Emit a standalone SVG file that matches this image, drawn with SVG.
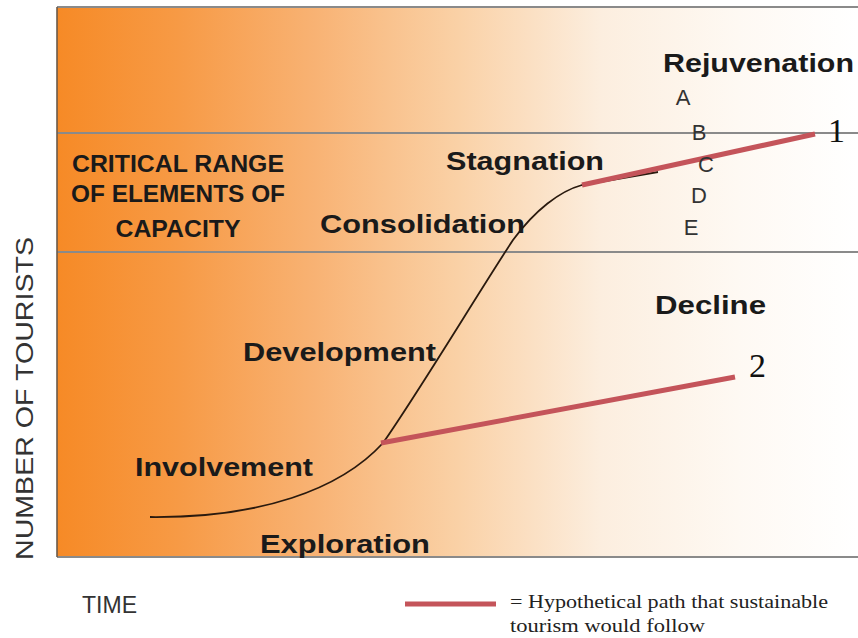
<svg xmlns="http://www.w3.org/2000/svg" width="858" height="638" viewBox="0 0 858 638">
  <defs>
    <linearGradient id="bg" x1="57" y1="0" x2="858" y2="0" gradientUnits="userSpaceOnUse">
      <stop offset="0" stop-color="#F68A26"/>
      <stop offset="0.15" stop-color="#F79A45"/>
      <stop offset="0.32" stop-color="#F8B273"/>
      <stop offset="0.5" stop-color="#FAD1A6"/>
      <stop offset="0.68" stop-color="#FCEEDF"/>
      <stop offset="0.85" stop-color="#FEF9F3"/>
      <stop offset="1" stop-color="#FFFFFF"/>
    </linearGradient>
    <style>
      .stage { font-family: "Liberation Sans", Arial, sans-serif; font-weight: bold; font-size: 26px; fill: #1a1a1a; }
      .crit { font-family: "Liberation Sans", Arial, sans-serif; font-weight: bold; font-size: 24px; fill: #1a1a1a; text-anchor: middle; }
      .letter { font-family: "Liberation Sans", Arial, sans-serif; font-size: 22px; fill: #333; text-anchor: middle; }
      .axis { font-family: "Liberation Sans", Arial, sans-serif; font-size: 23px; fill: #333; }
      .num { font-family: "Liberation Serif", "Times New Roman", serif; font-size: 34px; fill: #111; }
      .legend { font-family: "Liberation Serif", "Times New Roman", serif; font-size: 19px; fill: #222; }
      .grid { stroke: #8a8a8a; stroke-width: 2; fill: none; }
      .life { stroke: #2a1a0e; stroke-width: 1.8; fill: none; }
      .path { stroke: #C4545A; stroke-width: 5; fill: none; }
    </style>
  </defs>

  <rect width="858" height="638" fill="#ffffff"/>

  <!-- chart area -->
  <g id="chart-area">
    <rect x="57" y="7" width="803" height="550" fill="url(#bg)"/>
    <line class="grid" x1="57" y1="7" x2="858" y2="7"/>
    <line class="grid" x1="57" y1="133" x2="858" y2="133"/>
    <line class="grid" x1="57" y1="252" x2="858" y2="252"/>
    <line class="grid" x1="57" y1="557" x2="858" y2="557"/>
    <line x1="57" y1="7" x2="57" y2="557" stroke="#6b5a4a" stroke-width="1.6"/>
  </g>

  <!-- critical range label -->
  <g id="critical-range">
    <text class="crit" x="178" y="172" textLength="212" lengthAdjust="spacingAndGlyphs">CRITICAL RANGE</text>
    <text class="crit" x="178" y="202" textLength="214" lengthAdjust="spacingAndGlyphs">OF ELEMENTS OF</text>
    <text class="crit" x="178" y="237" textLength="125" lengthAdjust="spacingAndGlyphs">CAPACITY</text>
  </g>

  <!-- connectors: life cycle curve and sustainable paths -->
  <g id="connectors">
    <path class="life" d="M150,517 C260,518 340,490 383,443 C420,390 480,290 513,240 C535,210 560,191 582,185 L658,172"/>
    <line class="path" x1="582" y1="185" x2="815" y2="134"/>
    <line class="path" x1="381" y1="443" x2="735" y2="377"/>
  </g>

  <!-- stage labels -->
  <g id="stage-rejuvenation"><text class="stage" x="663" y="72" textLength="191" lengthAdjust="spacingAndGlyphs">Rejuvenation</text></g>
  <g id="stage-stagnation"><text class="stage" x="446" y="170" textLength="158" lengthAdjust="spacingAndGlyphs">Stagnation</text></g>
  <g id="stage-consolidation"><text class="stage" x="320" y="233" textLength="205" lengthAdjust="spacingAndGlyphs">Consolidation</text></g>
  <g id="stage-development"><text class="stage" x="243" y="361" textLength="193" lengthAdjust="spacingAndGlyphs">Development</text></g>
  <g id="stage-involvement"><text class="stage" x="135" y="476" textLength="178" lengthAdjust="spacingAndGlyphs">Involvement</text></g>
  <g id="stage-exploration"><text class="stage" x="260" y="553" textLength="170" lengthAdjust="spacingAndGlyphs">Exploration</text></g>
  <g id="stage-decline"><text class="stage" x="655" y="314" textLength="111" lengthAdjust="spacingAndGlyphs">Decline</text></g>

  <!-- rejuvenation options -->
  <g id="options">
    <text class="letter" x="683" y="105">A</text>
    <text class="letter" x="699" y="140">B</text>
    <text class="letter" x="706" y="172">C</text>
    <text class="letter" x="699" y="203">D</text>
    <text class="letter" x="691" y="235">E</text>
  </g>

  <!-- path end numbers -->
  <g id="path-1"><text class="num" x="828" y="142">1</text></g>
  <g id="path-2"><text class="num" x="749" y="377">2</text></g>

  <!-- axis titles -->
  <g id="axis-y"><text class="axis" transform="translate(33,560) rotate(-90)" x="0" y="0" textLength="323" lengthAdjust="spacingAndGlyphs">NUMBER OF TOURISTS</text></g>
  <g id="axis-x"><text class="axis" x="82" y="613" textLength="55" lengthAdjust="spacingAndGlyphs">TIME</text></g>

  <!-- legend -->
  <g id="legend">
    <line class="path" x1="405" y1="604" x2="496" y2="604" stroke-width="5"/>
    <text class="legend" x="510" y="608" textLength="318" lengthAdjust="spacingAndGlyphs">= Hypothetical path that sustainable</text>
    <text class="legend" x="510" y="632" textLength="195" lengthAdjust="spacingAndGlyphs">tourism would follow</text>
  </g>
</svg>
